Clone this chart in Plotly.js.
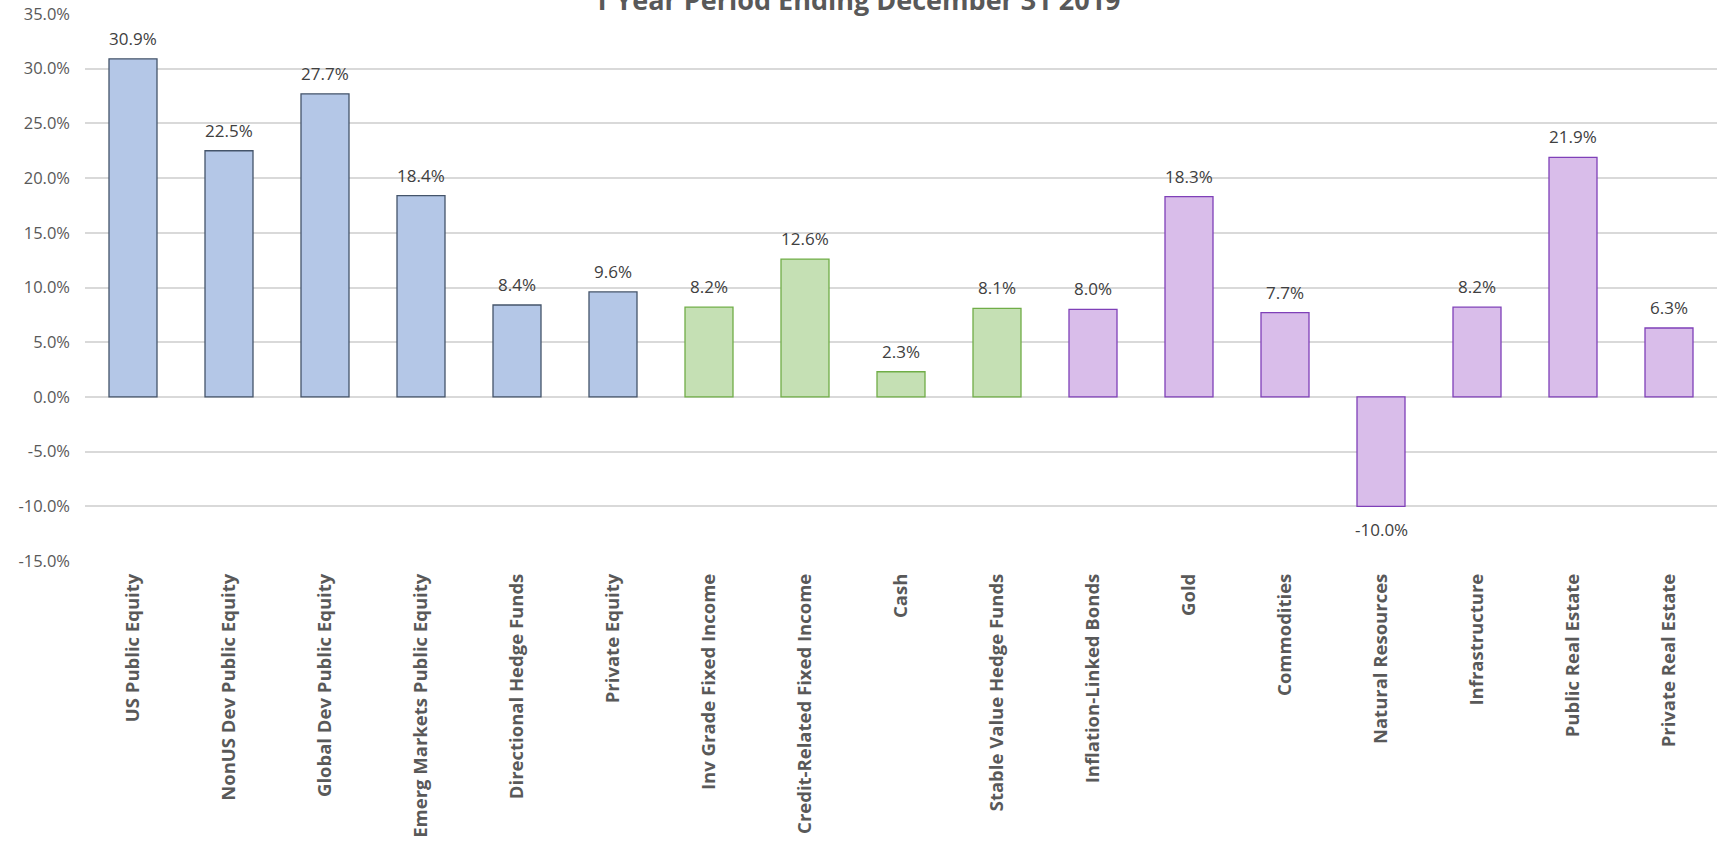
<!DOCTYPE html>
<html>
<head>
<meta charset="utf-8">
<script src="https://cdn.plot.ly/plotly-3.0.1.min.js"></script>
<style>
html,body{margin:0;padding:0;background:#fff;}
#chart{width:1717px;height:854px;}
</style>
</head>
<body>
<div id="chart"></div>
<script>
const categories = [
  "US Public Equity", "NonUS Dev Public Equity", "Global Dev Public Equity",
  "Emerg Markets Public Equity", "Directional Hedge Funds", "Private Equity",
  "Inv Grade Fixed Income", "Credit-Related Fixed Income", "Cash",
  "Stable Value Hedge Funds", "Inflation-Linked Bonds", "Gold", "Commodities",
  "Natural Resources", "Infrastructure", "Public Real Estate", "Private Real Estate"
];
const returns = [30.9, 22.5, 27.7, 18.4, 8.4, 9.6, 8.2, 12.6, 2.3, 8.1, 8.0, 18.3, 7.7, -10.0, 8.2, 21.9, 6.3];
const groups = ["growth","growth","growth","growth","growth","growth",
  "defensive","defensive","defensive","defensive",
  "real","real","real","real","real","real","real"];
const yTickValues = [-15, -10, -5, 0, 5, 10, 15, 20, 25, 30, 35];
const titleText = "1 Year Period Ending December 31 2019";

const fillColors = {growth: "#B4C7E7", defensive: "#C5E0B4", real: "#D9BDEA"};
const lineColors = {growth: "#44546A", defensive: "#70AD47", real: "#7F40B8"};

const trace = {
  type: "bar",
  x: categories,
  y: returns,
  marker: {
    color: groups.map(g => fillColors[g]),
    line: {color: groups.map(g => lineColors[g]), width: 1.3}
  },
  hoverinfo: "x+y"
};

const labelAnnotations = categories.map((c, i) => ({
  x: c, y: returns[i], xref: "x", yref: "y",
  text: returns[i].toFixed(1) + "%",
  showarrow: false,
  yanchor: returns[i] >= 0 ? "bottom" : "top",
  yshift: returns[i] >= 0 ? 7 : -10,
  font: {family: "Open Sans", size: 17, color: "#404040"}
}));

const layout = {
  width: 1717, height: 854,
  margin: {l: 85, r: 0, t: 14, b: 293, pad: 0},
  paper_bgcolor: "#ffffff",
  plot_bgcolor: "#ffffff",
  showlegend: false,
  bargap: 0.5,
  font: {family: "Open Sans", color: "#595959"},
  xaxis: {
    type: "category",
    tickangle: -90,
    tickfont: {family: "Open Sans", size: 18.5, color: "#595959", weight: "bold"},
    showgrid: false, zeroline: false, showline: false,
    ticks: "", ticklabelstandoff: 8
  },
  yaxis: {
    range: [-15, 35],
    tickvals: yTickValues,
    ticktext: yTickValues.map(v => v.toFixed(1) + "%"),
    tickfont: {family: "Open Sans", size: 16.5, color: "#595959"},
    showgrid: true, gridcolor: "#D9D9D9", gridwidth: 1.5,
    zeroline: true, zerolinecolor: "#D9D9D9", zerolinewidth: 1.5,
    showline: false, ticks: "", ticklabelstandoff: 14
  },
  annotations: labelAnnotations.concat([{
    xref: "paper", yref: "paper", x: 0.473, y: 1.026,
    xanchor: "center", yanchor: "middle",
    text: "<b>" + titleText + "</b>",
    showarrow: false,
    font: {family: "Open Sans", size: 27, color: "#595959"}
  }])
};

Plotly.newPlot("chart", [trace], layout, {displayModeBar: false, responsive: false});
</script>
</body>
</html>
